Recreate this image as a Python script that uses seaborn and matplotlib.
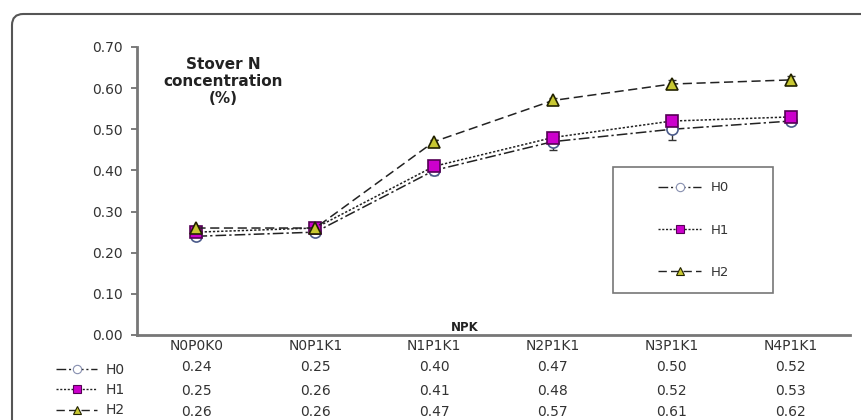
import matplotlib
matplotlib.use("Agg")
import matplotlib.pyplot as plt
import seaborn as sns
from matplotlib.lines import Line2D
from matplotlib.patches import FancyBboxPatch, Rectangle

npk = ['N0P0K0', 'N0P1K1', 'N1P1K1', 'N2P1K1', 'N3P1K1', 'N4P1K1']
h0 = [0.24, 0.25, 0.40, 0.47, 0.50, 0.52]
h1 = [0.25, 0.26, 0.41, 0.48, 0.52, 0.53]
h2 = [0.26, 0.26, 0.47, 0.57, 0.61, 0.62]
h0_err = [0.005, 0.005, 0.010, 0.020, 0.025, 0.010]
h1_err = [0.005, 0.005, 0.005, 0.010, 0.010, 0.010]
h2_err = [0.005, 0.005, 0.005, 0.005, 0.010, 0.010]
yticks = [0.0, 0.1, 0.2, 0.3, 0.4, 0.5, 0.6, 0.7]

sns.set_theme(style="white")
plt.rcParams['font.family'] = ['DejaVu Sans']

fig = plt.figure(figsize=(8.61, 4.20), dpi=100)
ax = fig.add_axes([137 / 861, 1 - 335 / 420, (850 - 137) / 861, (335 - 47) / 420])

series = [
    ('H0', h0, h0_err, 'o', 'white', '#4a5a8a', (0, (7, 2, 1.5, 2))),
    ('H1', h1, h1_err, 's', '#cc00cc', '#550055', (0, (1.5, 1.2))),
    ('H2', h2, h2_err, '^', '#c8c832', '#222200', (0, (6, 3))),
]

handles = []
for name, vals, err, mk, fc, ec, ls in series:
    ax.errorbar(range(len(npk)), vals, yerr=err, fmt='none', ecolor='#333333',
                elinewidth=1, capsize=3, zorder=2)
    sns.lineplot(x=npk, y=vals, ax=ax, color='#222222', linewidth=1.1,
                 linestyle=ls, marker=mk, markersize=8, markerfacecolor=fc,
                 markeredgecolor=ec, markeredgewidth=1.2, zorder=3)
    handles.append(Line2D([], [], color='#222222', linewidth=1.0, linestyle=ls,
                          marker=mk, markersize=6, markerfacecolor=fc,
                          markeredgecolor=ec if name != 'H0' else '#8890b0',
                          markeredgewidth=0.8))

ax.set_xlim(-0.5, len(npk) - 0.5)
ax.set_ylim(0, 0.70)
ax.set_yticks(yticks)
ax.set_yticklabels([f'{v:.2f}' for v in yticks], fontsize=10, color='#333333')
ax.set_xticks(range(len(npk)))
ax.set_xticklabels(npk, fontsize=10, color='#333333')
ax.tick_params(axis='x', length=0, pad=3)
ax.tick_params(axis='y', length=4, width=1.2, color='#666666', left=True, pad=6)
ax.set_xlabel('')
ax.set_ylabel('')
for s in ['top', 'right']:
    ax.spines[s].set_visible(False)
for s in ['left', 'bottom']:
    ax.spines[s].set_color('#777777')
    ax.spines[s].set_linewidth(2)

ax.text((223 - 137) / 713, 0.965, 'Stover N\nconcentration\n(%)', transform=ax.transAxes,
        ha='center', va='top', fontsize=11, fontweight='bold', color='#222222',
        linespacing=1.15)
ax.text(0.46, 0.003, 'NPK', transform=ax.transAxes, ha='center', va='bottom',
        fontsize=8.5, fontweight='bold', color='#222222')

# legend box inside the plot
ax.add_patch(Rectangle(((613 - 137) / 713, 1 - (293 - 47) / 288), 160 / 713, 126 / 288,
                       transform=ax.transAxes, fill=False, edgecolor='#777777',
                       linewidth=1.2, zorder=4))
fig.legend(handles, ['H0', 'H1', 'H2'], loc='center', bbox_to_anchor=(694 / 861, 1 - 230 / 420),
           frameon=False, fontsize=9.5, handlelength=3.2, labelspacing=2.2,
           handletextpad=0.8, labelcolor='#333333')

# data table under the axis
row_y = [367, 391, 412]
for vals, yy in zip([h0, h1, h2], row_y):
    for i, v in enumerate(vals):
        ax.text(i, -(yy - 335) / 288, f'{v:.2f}', transform=ax.get_xaxis_transform(),
                ha='center', va='center', fontsize=10, color='#333333')
fig.legend(handles, ['H0', 'H1', 'H2'], loc='upper right',
           bbox_to_anchor=(132 / 861, 1 - 356 / 420), frameon=False, fontsize=10,
           handlelength=3.0, labelspacing=0.45, handletextpad=0.6, borderpad=0,
           labelcolor='#333333')

# rounded outer border
fig.patches.append(FancyBboxPatch((12 / 861, -0.2), 1.2, 1 - 14 / 420 + 0.2,
                                  boxstyle='round,pad=0,rounding_size=0.013',
                                  transform=fig.transFigure, fill=False,
                                  edgecolor='#555555', linewidth=1.5,
                                  mutation_aspect=861 / 420))

fig.savefig('out.png', dpi=100)
plt.close(fig)
